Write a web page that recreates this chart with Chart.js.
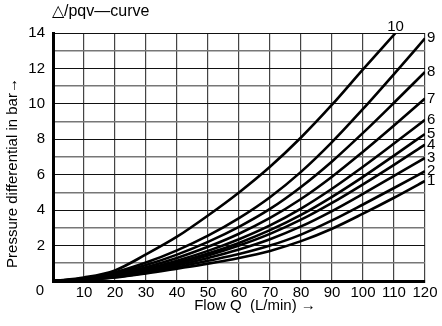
<!DOCTYPE html>
<html>
<head>
<meta charset="utf-8">
<script src="https://cdn.jsdelivr.net/npm/chart.js@4"></script>
<style>
  html, body { margin: 0; padding: 0; background: #fff; }
</style>
</head>
<body>
<canvas id="pqv-chart" width="442" height="326"></canvas>
<script>
// flow Q in L/min
const flow = [0, 10, 20, 30, 40, 50, 60, 70, 80, 90, 100, 110, 120];
const flow10 = [0, 10, 20, 30, 40, 50, 60, 70, 80, 90, 100, 110.5];

// pressure differential in bar, one array per curve
const curve1 = [0, 0.06, 0.2, 0.43, 0.7, 0.98, 1.3, 1.7, 2.25, 2.95, 3.8, 4.7, 5.65];
const curve2 = [0, 0.07, 0.22, 0.47, 0.78, 1.14, 1.52, 2.0, 2.62, 3.42, 4.32, 5.25, 6.2];
const curve3 = [0, 0.08, 0.25, 0.53, 0.88, 1.3, 1.78, 2.36, 3.08, 3.95, 4.92, 5.93, 6.95];
const curve4 = [0, 0.08, 0.28, 0.58, 0.97, 1.44, 2.0, 2.66, 3.46, 4.41, 5.46, 6.56, 7.7];
const curve5 = [0, 0.09, 0.3, 0.63, 1.05, 1.55, 2.15, 2.87, 3.73, 4.75, 5.88, 7.08, 8.3];
const curve6 = [0, 0.1, 0.33, 0.69, 1.15, 1.7, 2.36, 3.14, 4.09, 5.21, 6.45, 7.76, 9.1];
const curve7 = [0, 0.11, 0.37, 0.78, 1.3, 1.93, 2.67, 3.56, 4.63, 5.89, 7.3, 8.78, 10.3];
const curve8 = [0, 0.13, 0.42, 0.9, 1.49, 2.21, 3.06, 4.07, 5.31, 6.75, 8.36, 10.06, 11.8];
const curve9 = [0, 0.15, 0.49, 1.04, 1.73, 2.56, 3.55, 4.73, 6.16, 7.84, 9.71, 11.68, 13.7];
const curve10 = [0, 0.2, 0.6, 1.5, 2.5, 3.7, 5.0, 6.45, 8.1, 9.95, 11.95, 14.0];

const curveNames = ["1", "2", "3", "4", "5", "6", "7", "8", "9", "10"];
const allCurves = [curve1, curve2, curve3, curve4, curve5, curve6, curve7, curve8, curve9, curve10];

const FONT = "'Liberation Sans', Arial, sans-serif";

const datasets = allCurves.map((values, i) => {
  const xs = i === 9 ? flow10 : flow;
  return {
    label: curveNames[i],
    data: values.map((v, k) => ({ x: xs[k], y: v })),
    borderColor: "#000",
    borderWidth: 2.6,
    pointRadius: 0,
    fill: false,
    cubicInterpolationMode: "monotone",
  };
});

// curve numbers, heading, corner zero and the two axis titles
const curveLabels = {
  id: "curveLabels",
  afterDatasetsDraw(chart) {
    const { ctx, chartArea } = chart;
    const x = chart.scales.x;
    const y = chart.scales.y;
    ctx.save();
    ctx.fillStyle = "#000";
    ctx.font = "15px " + FONT;
    chart.data.datasets.forEach((ds) => {
      const last = ds.data[ds.data.length - 1];
      const px = x.getPixelForValue(last.x);
      const py = y.getPixelForValue(last.y);
      if (last.x < 120) {
        ctx.textAlign = "center";
        ctx.textBaseline = "bottom";
        ctx.fillText(ds.label, px, py + 1);
      } else {
        ctx.textAlign = "left";
        ctx.textBaseline = "middle";
        ctx.fillText(ds.label, px + 2, py);
      }
    });

    ctx.textAlign = "center";
    ctx.textBaseline = "middle";
    ctx.fillText("0", chartArea.left - 13, chartArea.bottom + 10);
    ctx.fillText("Flow Q  (L/min) \u2192", (chartArea.left + chartArea.right) / 2 + 16, 306);

    // y title sits a bit below the middle of the plot
    ctx.save();
    ctx.translate(13, (chartArea.top + chartArea.bottom) / 2 + 16);
    ctx.rotate(-Math.PI / 2);
    ctx.fillText("Pressure differential in bar\u2192", 0, 0);
    ctx.restore();

    ctx.font = "16px " + FONT;
    ctx.textAlign = "left";
    ctx.fillText("\u25B3/pqv\u2014curve", chartArea.left - 1, 12);
    ctx.restore();
  },
};

const ctx = document.getElementById("pqv-chart").getContext("2d");
const chart = new Chart(ctx, {
  type: "line",
  data: { datasets: datasets },
  options: {
    responsive: false,
    animation: false,
    layout: { padding: { top: 33, right: 17, left: 0, bottom: 0 } },
    scales: {
      x: {
        type: "linear",
        min: 0,
        max: 120,
        afterFit: (scale) => { scale.height = 45; },
        ticks: {
          stepSize: 10,
          padding: 3,
          color: "#000",
          font: { family: FONT, size: 15 },
          maxRotation: 0,
          autoSkip: false,
          callback: (v) => (v === 0 ? "" : v),
        },
        grid: { color: "#444", lineWidth: 1.2, drawTicks: false },
        border: { color: "#000", width: 3 },
      },
      y: {
        min: 0,
        max: 14,
        afterFit: (scale) => { scale.width = 53; },
        ticks: {
          stepSize: 1,
          padding: 8,
          autoSkip: false,
          color: "#000",
          font: { family: FONT, size: 15 },
          callback: (v) => (v > 0 && v % 2 === 0 ? v : ""),
        },
        grid: {
          drawTicks: false,
          color: (c) => (c.tick.value % 2 ? "#777" : "#111"),
          lineWidth: (c) => (c.tick.value % 2 ? 1.6 : 1),
        },
        border: { color: "#000", width: 3 },
      },
    },
    plugins: {
      legend: { display: false },
      tooltip: { enabled: false },
    },
  },
  plugins: [curveLabels],
});
</script>
</body>
</html>
